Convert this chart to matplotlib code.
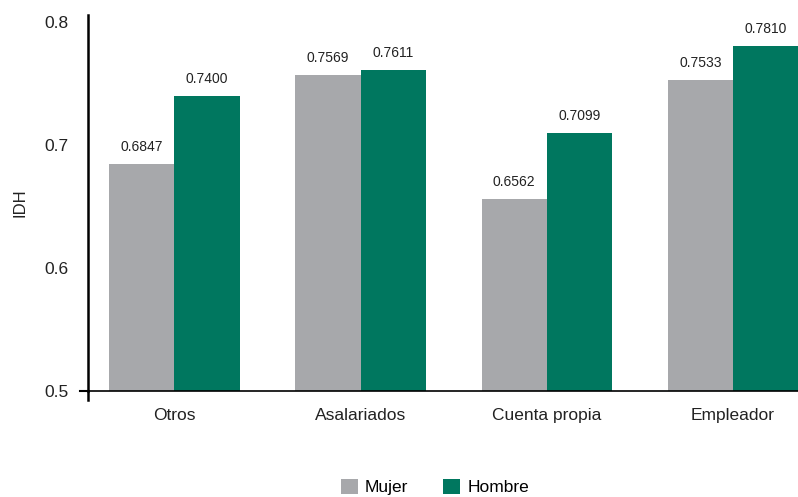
import numpy as np
import matplotlib
matplotlib.use("Agg")
import matplotlib.pyplot as plt

plt.rcParams['font.family'] = ['Liberation Sans', 'DejaVu Sans']

categorias = ['Otros', 'Asalariados', 'Cuenta propia', 'Empleador']
mujer = [0.6847, 0.7569, 0.6562, 0.7533]
hombre = [0.7400, 0.7611, 0.7099, 0.7810]
yticks = [0.5, 0.6, 0.7, 0.8]

gris = '#a7a8ab'
verde = '#00775f'

fig = plt.figure(figsize=(7.98, 4.97), dpi=100)
ax = fig.add_axes([0.110, 0.213, 0.89, 0.757])

x = np.arange(len(categorias))
w = 0.35
b1 = ax.bar(x - w / 2, mujer, w, color=gris, label='Mujer')
b2 = ax.bar(x + w / 2, hombre, w, color=verde, label='Hombre')

for bars, vals in ((b1, mujer), (b2, hombre)):
    for r, v in zip(bars, vals):
        ax.text(r.get_x() + r.get_width() / 2, v + 0.008, f'{v:.4f}',
                ha='center', va='bottom', fontsize=10, color='#222222')

ax.set_ylim(0.5, 0.806)
ax.set_xlim(-0.465, 3.35)
ax.set_yticks(yticks)
ax.set_yticklabels([f'{t:.1f}' for t in yticks])
ax.set_xticks(x)
ax.set_xticklabels(categorias)
ax.tick_params(axis='both', length=0, labelsize=12.5, colors='#222222')
ax.tick_params(axis='y', pad=14)
ax.tick_params(axis='x', pad=12)
ax.set_ylabel('IDH', fontsize=12, color='#222222', labelpad=12)

for s in ('top', 'right'):
    ax.spines[s].set_visible(False)
ax.spines['left'].set_linewidth(1.8)
ax.spines['bottom'].set_linewidth(1.2)
ax.spines['left'].set_bounds(0.5, 0.806)
ax.plot([-0.465, -0.505], [0.5, 0.5], color='black', lw=1.5, clip_on=False)
ax.plot([-0.465, -0.465], [0.5, 0.493], color='black', lw=1.8, clip_on=False)

fig.legend(handles=[b1, b2], loc='center', bbox_to_anchor=(0.545, 0.02),
           ncol=2, frameon=False, fontsize=12.5, handlelength=1.0,
           handleheight=1.0, columnspacing=2.0, handletextpad=0.4)

fig.savefig('out.png', dpi=100)
